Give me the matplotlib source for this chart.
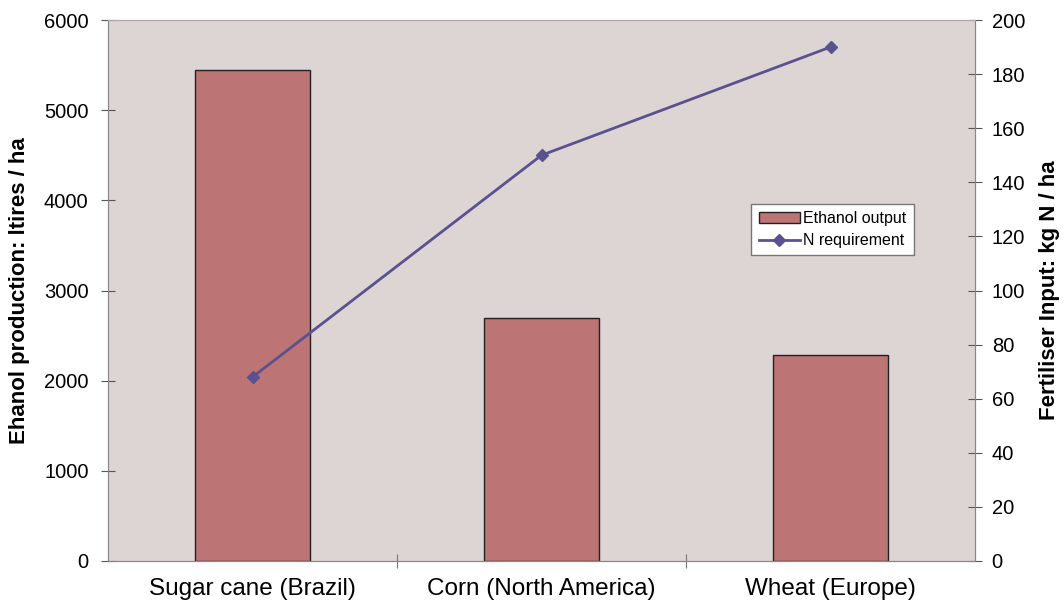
import matplotlib
matplotlib.use('Agg')
import matplotlib.pyplot as plt
import numpy as np

plt.rcParams['font.family'] = ['Liberation Sans', 'DejaVu Sans']

# data
crops = ['Sugar cane (Brazil)', 'Corn (North America)', 'Wheat (Europe)']
ethanol_output = [5450, 2700, 2290]
n_requirement = [68, 150, 190]

bar_color = '#bc7475'
line_color = '#5a5190'
bg_color = '#ddd5d3'

fig = plt.figure(figsize=(10.64, 6.11), dpi=100)
ax = fig.add_axes([108 / 1064, 50 / 611, 867 / 1064, 541 / 611])
ax.set_facecolor(bg_color)

x = np.arange(len(crops))
bars = ax.bar(x, ethanol_output, width=0.4, color=bar_color,
              edgecolor='#222222', linewidth=1, label='Ethanol output', zorder=2)
ax.set_xlim(-0.5, 2.5)
ax.set_ylim(0, 6000)
ax.set_yticks(range(0, 6001, 1000))
ax.set_xticks([0.5, 1.5])
ax.set_xticklabels([])
ax.set_xticks(x, minor=True)
ax.set_xticklabels(crops, minor=True)
ax.tick_params(axis='x', which='minor', length=0, labelsize=17.5, pad=12)
ax.tick_params(axis='x', which='major', direction='inout', length=10, color='#777777')
ax.tick_params(axis='y', direction='inout', length=10, labelsize=14.5, pad=9, color='#555555')
ax.set_ylabel('Ehanol production: ltires / ha', fontsize=16, fontweight='bold', labelpad=10)

ax2 = ax.twinx()
ax2.patch.set_visible(False)
line, = ax2.plot(x, n_requirement, color=line_color, linewidth=2, marker='D',
                 markersize=6, label='N requirement', zorder=3)
ax2.set_ylim(0, 200)
ax2.set_yticks(range(0, 201, 20))
ax2.tick_params(axis='y', direction='inout', length=10, labelsize=14.5, pad=7, color='#555555')
ax2.set_ylabel('Fertiliser Input: kg N / ha', fontsize=16, fontweight='bold', labelpad=10)

for a in (ax, ax2):
    for side in ('top', 'right', 'left', 'bottom'):
        a.spines[side].set_color('#888888')
    a.spines['top'].set_color('#b0a8a6')

leg = ax2.legend([bars, line], ['Ethanol output', 'N requirement'],
                 loc='lower left', bbox_to_anchor=(0.733, 0.55), fontsize=11.5,
                 frameon=True, fancybox=False, edgecolor='#777777', framealpha=1,
                 handlelength=2.6, handletextpad=0.2, borderpad=0.45, labelspacing=0.45)
leg.get_frame().set_linewidth(1)

fig.savefig('out.png', dpi=100)
